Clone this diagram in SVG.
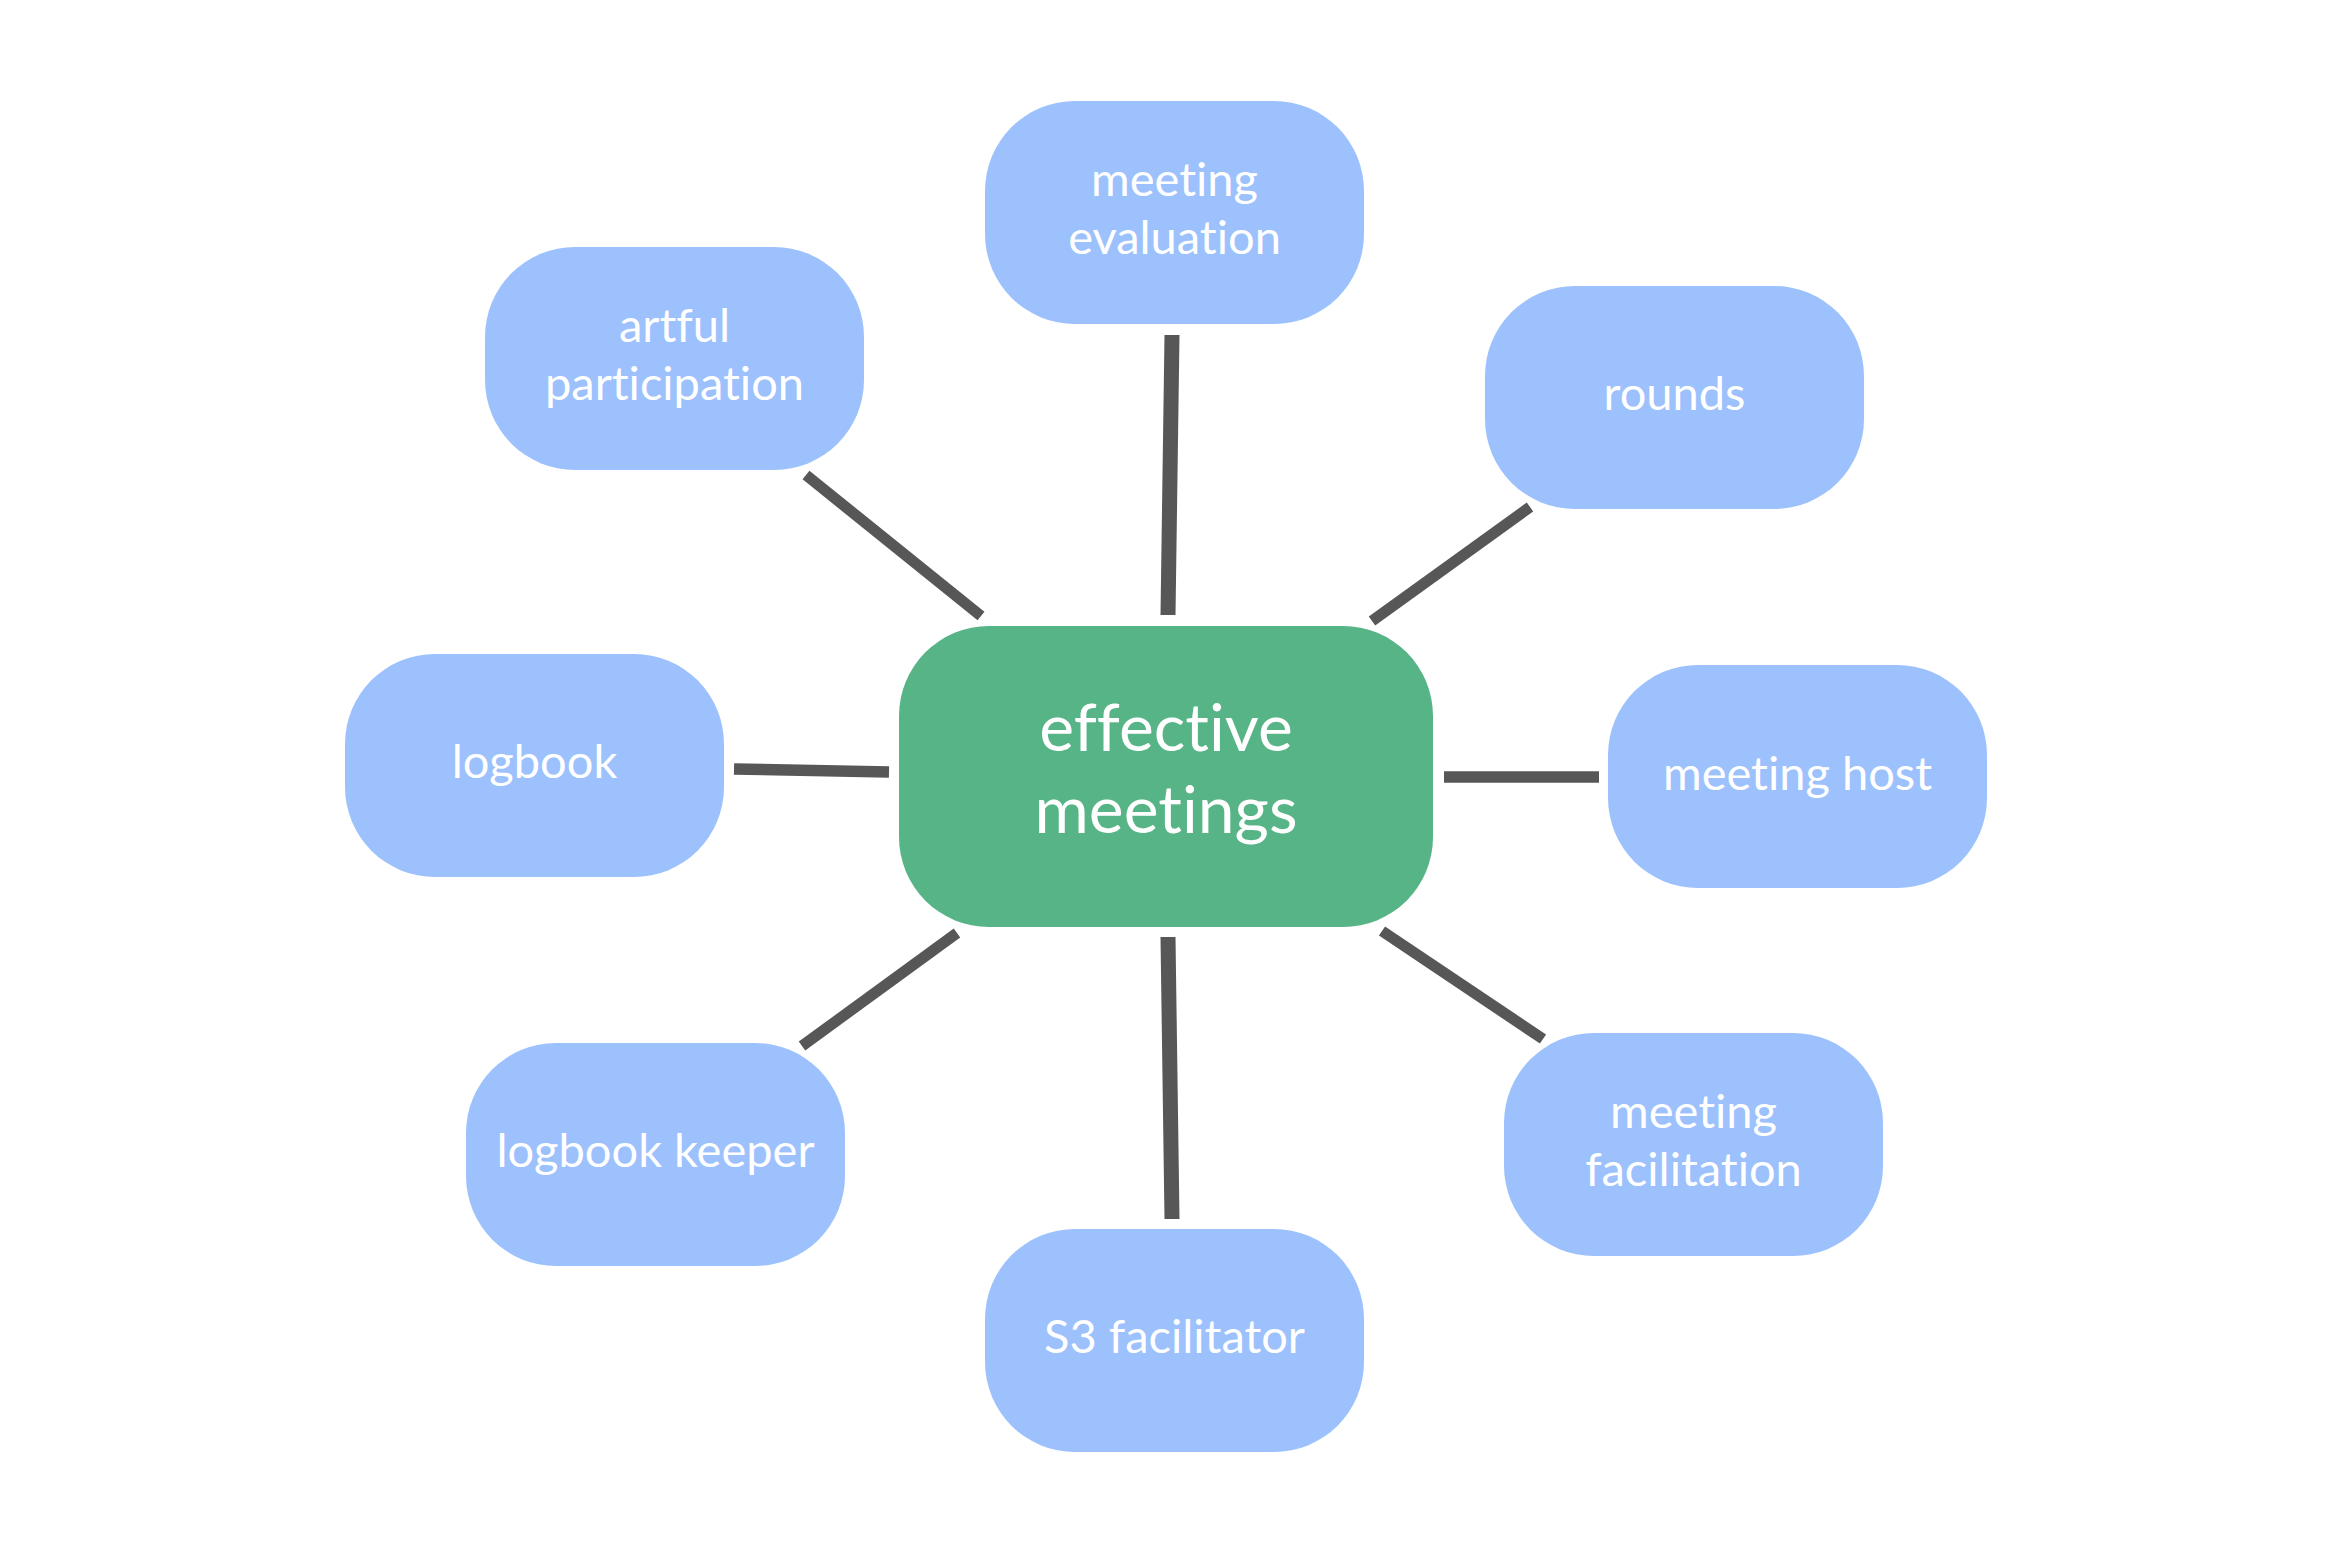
<svg xmlns="http://www.w3.org/2000/svg" width="2333" height="1555" viewBox="0 0 2333 1555">
<style>
.leaf rect{fill:#9cc1fd}
.hub rect{fill:#57b487}
text{font-family:Lato,"Open Sans","Liberation Sans",sans-serif;fill:#ffffff;text-anchor:middle;font-variant-ligatures:none;font-feature-settings:"liga" 0,"clig" 0}
.leaf text{font-size:47px}
.hub text{font-size:66px}
.links line{stroke:#575757;stroke-linecap:butt}
</style>
<rect width="2333" height="1555" fill="#ffffff"/>
<g class="links">
<line x1="806" y1="475" x2="981" y2="616" stroke-width="11"/>
<line x1="1172" y1="335" x2="1168" y2="615" stroke-width="15"/>
<line x1="1530" y1="507" x2="1372" y2="621" stroke-width="11"/>
<line x1="1444" y1="777" x2="1599" y2="777" stroke-width="11.5"/>
<line x1="1382" y1="931" x2="1543" y2="1039" stroke-width="11"/>
<line x1="1168" y1="937" x2="1172" y2="1219" stroke-width="15"/>
<line x1="957" y1="933" x2="802" y2="1046" stroke-width="11"/>
<line x1="734" y1="769" x2="889" y2="772" stroke-width="11.5"/>
</g>
<g id="effective-meetings" class="hub">
<rect x="899" y="626" width="534" height="301" rx="90" ry="90"/>
<text x="1166" y="751">effective</text>
<text x="1166" y="833">meetings</text>
</g>
<g id="meeting-evaluation" class="leaf">
<rect x="985" y="101" width="379" height="223" rx="90" ry="90"/>
<text x="1174.5" y="196">meeting</text>
<text x="1174.5" y="254">evaluation</text>
</g>
<g id="artful-participation" class="leaf">
<rect x="485" y="247" width="379" height="223" rx="90" ry="90"/>
<text x="674.5" y="342">artful</text>
<text x="674.5" y="400">participation</text>
</g>
<g id="rounds" class="leaf">
<rect x="1485" y="286" width="379" height="223" rx="90" ry="90"/>
<text x="1674.5" y="410">rounds</text>
</g>
<g id="logbook" class="leaf">
<rect x="345" y="654" width="379" height="223" rx="90" ry="90"/>
<text x="534.5" y="778">logbook</text>
</g>
<g id="meeting-host" class="leaf">
<rect x="1608" y="665" width="379" height="223" rx="90" ry="90"/>
<text x="1797.5" y="790">meeting host</text>
</g>
<g id="logbook-keeper" class="leaf">
<rect x="466" y="1043" width="379" height="223" rx="90" ry="90"/>
<text x="655.5" y="1167">logbook keeper</text>
</g>
<g id="meeting-facilitation" class="leaf">
<rect x="1504" y="1033" width="379" height="223" rx="90" ry="90"/>
<text x="1693.5" y="1128">meeting</text>
<text x="1693.5" y="1186">facilitation</text>
</g>
<g id="s3-facilitator" class="leaf">
<rect x="985" y="1229" width="379" height="223" rx="90" ry="90"/>
<text x="1174.5" y="1353">S3 facilitator</text>
</g>
</svg>
